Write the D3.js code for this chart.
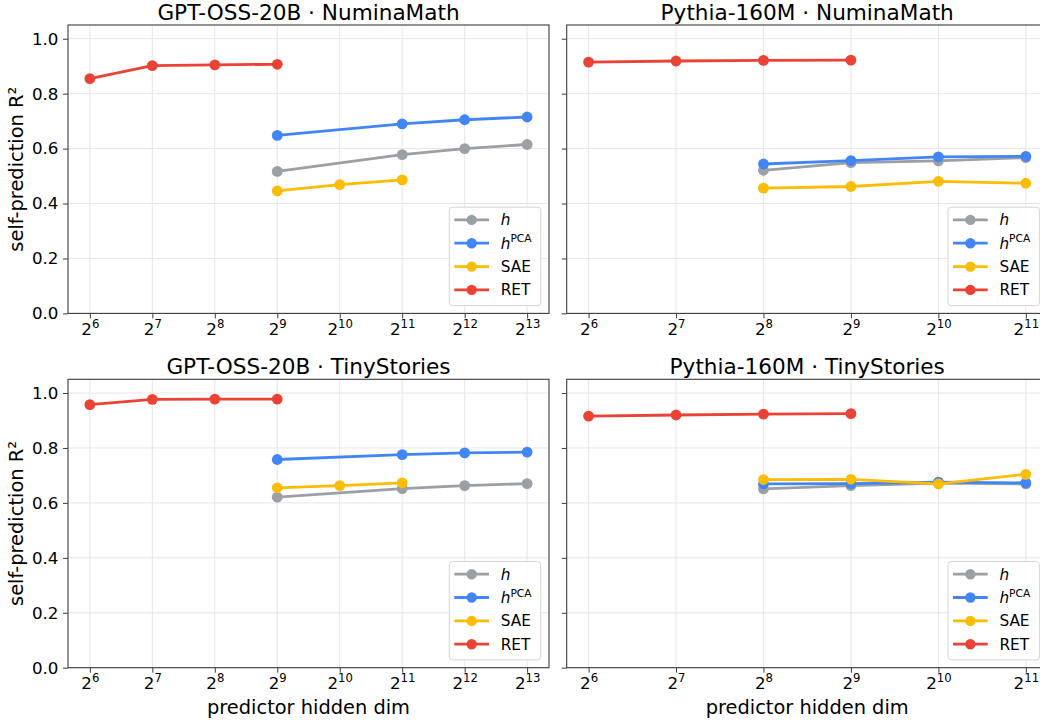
<!DOCTYPE html>
<html>
<head>
<meta charset="utf-8">
<script src="https://cdn.jsdelivr.net/npm/d3@7/dist/d3.min.js"></script>
<style>
  html, body { margin: 0; padding: 0; background: #fff; }
  svg { display: block; font-family: "DejaVu Sans", sans-serif; }
</style>
</head>
<body>
<svg id="chart" width="1040" height="721"></svg>
<script>
// ---------------- DATA ----------------
const seriesNames = ["h", "hPCA", "SAE", "RET"];
const seriesColors = ["#9aa0a6", "#4285f4", "#fbbc04", "#ea4335"];

const panelTitles = ["GPT-OSS-20B · NuminaMath", "Pythia-160M · NuminaMath",
                     "GPT-OSS-20B · TinyStories", "Pythia-160M · TinyStories"];

const gptTickExps = [6, 7, 8, 9, 10, 11, 12, 13];
const pythiaTickExps = [6, 7, 8, 9, 10, 11];
const yTicks = [0.0, 0.2, 0.4, 0.6, 0.8, 1.0];

// GPT-OSS-20B dims
const gptDimsH = [512, 2048, 4096, 8192];
const gptDimsSAE = [512, 1024, 2048];
const gptDimsRET = [64, 128, 256, 512];
// Pythia-160M dims
const pyDimsH = [256, 512, 1024, 2048];
const pyDimsSAE = [256, 512, 1024, 2048];
const pyDimsRET = [64, 128, 256, 512];

// GPT-OSS-20B · NuminaMath
const gptMathH    = [0.517, 0.578, 0.600, 0.615];
const gptMathHPCA = [0.648, 0.690, 0.705, 0.715];
const gptMathSAE  = [0.446, 0.469, 0.486];
const gptMathRET  = [0.855, 0.902, 0.905, 0.907];

// Pythia-160M · NuminaMath
const pyMathH    = [0.521, 0.549, 0.555, 0.567];
const pyMathHPCA = [0.544, 0.556, 0.570, 0.572];
const pyMathSAE  = [0.456, 0.462, 0.481, 0.474];
const pyMathRET  = [0.915, 0.919, 0.921, 0.922];

// GPT-OSS-20B · TinyStories
const gptStoryH    = [0.621, 0.652, 0.663, 0.670];
const gptStoryHPCA = [0.758, 0.776, 0.782, 0.785];
const gptStorySAE  = [0.655, 0.663, 0.673];
const gptStoryRET  = [0.958, 0.977, 0.978, 0.978];

// Pythia-160M · TinyStories
const pyStoryH    = [0.651, 0.663, 0.672, 0.669];
const pyStoryHPCA = [0.669, 0.670, 0.676, 0.673];
const pyStorySAE  = [0.685, 0.686, 0.669, 0.704];
const pyStoryRET  = [0.916, 0.920, 0.923, 0.925];

// ---------------- BUILD ----------------
function mk(dH, dS, dR, h, hp, s, r) {
  return [
    dH.map((d, i) => [d, h[i]]),
    dH.map((d, i) => [d, hp[i]]),
    dS.map((d, i) => [d, s[i]]),
    dR.map((d, i) => [d, r[i]])
  ];
}

const panels = [
  { title: panelTitles[0], exps: gptTickExps, x0: 68, y0: 25, ylab: true, xlab: false,
    series: mk(gptDimsH, gptDimsSAE, gptDimsRET, gptMathH, gptMathHPCA, gptMathSAE, gptMathRET) },
  { title: panelTitles[1], exps: pythiaTickExps, x0: 566.7, y0: 25, ylab: false, xlab: false,
    series: mk(pyDimsH, pyDimsSAE, pyDimsRET, pyMathH, pyMathHPCA, pyMathSAE, pyMathRET) },
  { title: panelTitles[2], exps: gptTickExps, x0: 68, y0: 379.3, ylab: true, xlab: true,
    series: mk(gptDimsH, gptDimsSAE, gptDimsRET, gptStoryH, gptStoryHPCA, gptStorySAE, gptStoryRET) },
  { title: panelTitles[3], exps: pythiaTickExps, x0: 566.7, y0: 379.3, ylab: false, xlab: true,
    series: mk(pyDimsH, pyDimsSAE, pyDimsRET, pyStoryH, pyStoryHPCA, pyStorySAE, pyStoryRET) }
];

const W = 481, H = 288.4;
const svg = d3.select("#chart");
const spineColor = "#3c3c3c";
const gridColor = "#e6e6e6";
const tickFont = 16.7, supFont = 11.7, labelFont = 19.4, titleFont = 21.6, legFont = 15.3;

panels.forEach(p => {
  const g = svg.append("g").attr("transform", `translate(${p.x0},${p.y0})`);
  const lo = p.exps[0], hi = p.exps[p.exps.length - 1];
  const m = (hi - lo) * 0.05;
  const x = d3.scaleLog().base(2).domain([Math.pow(2, lo - m), Math.pow(2, hi + m)]).range([0, W]);
  const y = d3.scaleLinear().domain([0, 1.05]).range([H, 0]);
  const xTickVals = p.exps.map(e => Math.pow(2, e));

  // grid
  g.append("g").selectAll("line.vg").data(xTickVals).join("line")
    .attr("x1", d => x(d)).attr("x2", d => x(d)).attr("y1", 0).attr("y2", H)
    .attr("stroke", gridColor).attr("stroke-width", 1);
  g.append("g").selectAll("line.hg").data(yTicks).join("line")
    .attr("x1", 0).attr("x2", W).attr("y1", d => y(d)).attr("y2", d => y(d))
    .attr("stroke", gridColor).attr("stroke-width", 1);

  // axes (ticks) via d3 axis
  const yAxis = d3.axisLeft(y).tickValues(yTicks).tickSize(5).tickPadding(4.5)
    .tickFormat(p.ylab ? d3.format(".1f") : () => "");
  const ya = g.append("g").call(yAxis);
  ya.select(".domain").remove();
  ya.selectAll(".tick line").attr("stroke", spineColor).attr("stroke-width", 1);
  ya.selectAll(".tick text").attr("font-size", tickFont).attr("fill", "#000")
    .attr("font-family", "DejaVu Sans");

  const xAxis = d3.axisBottom(x).tickValues(xTickVals).tickSize(5).tickFormat(() => "");
  const xa = g.append("g").attr("transform", `translate(0,${H})`).call(xAxis);
  xa.select(".domain").remove();
  xa.selectAll(".tick line").attr("stroke", spineColor).attr("stroke-width", 1);
  xa.selectAll(".tick").each(function(d) {
    const e = Math.round(Math.log2(d));
    const t = d3.select(this).append("text")
      .attr("x", 0).attr("y", 21.5)
      .attr("text-anchor", "middle").attr("fill", "#000")
      .attr("font-family", "DejaVu Sans").attr("font-size", tickFont);
    t.append("tspan").text("2");
    t.append("tspan").attr("dy", -6.8).attr("font-size", supFont).text(String(e));
  });

  // series
  const line = d3.line().x(d => x(d[0])).y(d => y(d[1]));
  p.series.forEach((s, i) => {
    const sg = g.append("g");
    sg.append("path").datum(s).attr("d", line).attr("fill", "none")
      .attr("stroke", seriesColors[i]).attr("stroke-width", 2.8)
      .attr("stroke-linejoin", "round").attr("stroke-linecap", "butt");
    sg.selectAll("circle").data(s).join("circle")
      .attr("cx", d => x(d[0])).attr("cy", d => y(d[1])).attr("r", 5.4)
      .attr("fill", seriesColors[i]);
  });

  // spines
  g.append("rect").attr("x", 0).attr("y", 0).attr("width", W).attr("height", H)
    .attr("fill", "none").attr("stroke", spineColor).attr("stroke-width", 1.1);

  // title
  g.append("text").attr("x", W / 2).attr("y", -5.5).attr("text-anchor", "middle")
    .attr("font-size", titleFont).attr("fill", "#000").text(p.title);

  // y label
  if (p.ylab) {
    svg.append("text")
      .attr("transform", `translate(${p.x0 - 45},${p.y0 + H / 2}) rotate(-90)`)
      .attr("text-anchor", "middle").attr("font-size", labelFont).attr("fill", "#000")
      .text("self-prediction R²");
  }
  if (p.xlab) {
    svg.append("text").attr("x", p.x0 + W / 2).attr("y", 714)
      .attr("text-anchor", "middle").attr("font-size", labelFont).attr("fill", "#000")
      .text("predictor hidden dim");
  }

  // legend
  const bw = 91.4, bh = 98.4;
  const bx = W - 8.3 - bw, by = H - 7.8 - bh;
  const lg = g.append("g").attr("transform", `translate(${bx},${by})`);
  lg.append("rect").attr("width", bw).attr("height", bh).attr("rx", 3).attr("ry", 3)
    .attr("fill", "rgba(255,255,255,0.85)").attr("stroke", "#d6d6d6").attr("stroke-width", 1);
  const rowY = [12.7, 36.0, 59.4, 82.7];
  seriesNames.forEach((nm, i) => {
    const yy = rowY[i];
    lg.append("line").attr("x1", 5).attr("x2", 39.7).attr("y1", yy).attr("y2", yy)
      .attr("stroke", seriesColors[i]).attr("stroke-width", 2.8);
    lg.append("circle").attr("cx", 22.4).attr("cy", yy).attr("r", 5.2).attr("fill", seriesColors[i]);
    const t = lg.append("text").attr("x", 51.4).attr("y", yy + 5.5)
      .attr("font-size", legFont).attr("fill", "#000");
    if (nm === "h") {
      t.append("tspan").attr("font-style", "italic").text("h");
    } else if (nm === "hPCA") {
      t.append("tspan").attr("font-style", "italic").text("h");
      t.append("tspan").attr("dy", -6.5).attr("font-size", 10.7).text("PCA");
    } else {
      t.text(nm);
    }
  });
});
</script>
</body>
</html>
